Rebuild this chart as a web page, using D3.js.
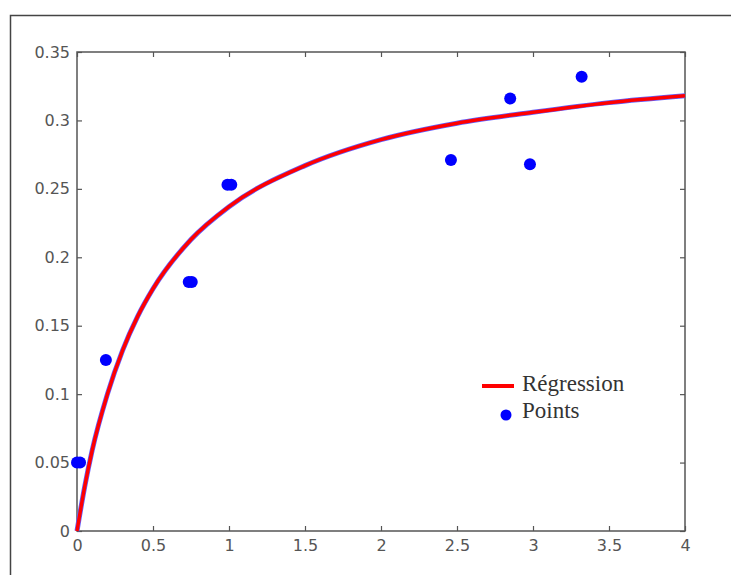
<!DOCTYPE html>
<html>
<head>
<meta charset="utf-8">
<script src="https://cdn.jsdelivr.net/npm/d3@7"></script>
<style>
  body { margin: 0; background: #fff; }
</style>
</head>
<body>
<script>
// measured points
const pointX = [0.0, 0.02, 0.19, 0.735, 0.755, 0.99, 1.015, 2.46, 2.85, 2.98, 3.32];
const pointY = [0.05, 0.05, 0.125, 0.182, 0.182, 0.253, 0.253, 0.271, 0.316, 0.268, 0.332];

// regression curve
const curveX = [0, 0.05, 0.1, 0.2, 0.3, 0.4, 0.5, 0.75, 1, 1.5, 2, 2.5, 3, 3.5, 4];
const curveY = [0, 0.032, 0.059, 0.1, 0.132, 0.157, 0.177, 0.213, 0.237, 0.267, 0.286, 0.298, 0.306, 0.313, 0.318];

const xTicks = [0, 0.5, 1, 1.5, 2, 2.5, 3, 3.5, 4];
const yTicks = [0, 0.05, 0.1, 0.15, 0.2, 0.25, 0.3, 0.35];
const legendLabels = ["Régression", "Points"];

const width = 731;
const height = 575;
const margin = { top: 52, right: 46, bottom: 44, left: 77 };

const svg = d3.select("body").append("svg")
    .attr("width", width)
    .attr("height", height);

// figure frame
svg.append("rect")
    .attr("x", 10.5).attr("y", 15.5)
    .attr("width", 740).attr("height", 600)
    .attr("fill", "none")
    .attr("stroke", "#444")
    .attr("stroke-width", 1.5);

const x = d3.scaleLinear().domain([0, 4]).range([margin.left, width - margin.right]);
const y = d3.scaleLinear().domain([0, 0.35]).range([height - margin.bottom, margin.top]);

const axisColor = "#555";
const tickFont = "'DejaVu Sans', sans-serif";

function styleAxis(g, showText) {
    g.select(".domain").remove();
    g.selectAll("line").attr("stroke", axisColor).attr("stroke-width", 1.2);
    g.selectAll("text")
        .attr("fill", "#555")
        .style("font-family", tickFont)
        .style("font-size", "16px")
        .style("display", showText ? null : "none");
}

// bottom
svg.append("g")
    .attr("transform", `translate(0,${y(0)})`)
    .call(d3.axisBottom(x).tickValues(xTicks).tickSize(-5).tickPadding(9).tickFormat(d3.format("")))
    .call(g => styleAxis(g, true));
// top
svg.append("g")
    .attr("transform", `translate(0,${y(0.35)})`)
    .call(d3.axisTop(x).tickValues(xTicks).tickSize(-5))
    .call(g => styleAxis(g, false));
// left
svg.append("g")
    .attr("transform", `translate(${x(0)},0)`)
    .call(d3.axisLeft(y).tickValues(yTicks).tickSize(-5).tickPadding(7).tickFormat(d3.format("")))
    .call(g => styleAxis(g, true));
// right
svg.append("g")
    .attr("transform", `translate(${x(4)},0)`)
    .call(d3.axisRight(y).tickValues(yTicks).tickSize(-5))
    .call(g => styleAxis(g, false));

// axes box
svg.append("rect")
    .attr("x", x(0)).attr("y", y(0.35))
    .attr("width", x(4) - x(0)).attr("height", y(0) - y(0.35))
    .attr("fill", "none")
    .attr("stroke", axisColor)
    .attr("stroke-width", 1.5);

// regression line
const curveData = curveX.map((d, i) => [d, curveY[i]]);
const line = d3.line()
    .x(d => x(d[0]))
    .y(d => y(d[1]))
    .curve(d3.curveMonotoneX);

svg.append("path")
    .datum(curveData)
    .attr("d", line)
    .attr("fill", "none")
    .attr("stroke", "#6060ff")
    .attr("stroke-width", 5);
svg.append("path")
    .datum(curveData)
    .attr("d", line)
    .attr("fill", "none")
    .attr("stroke", "red")
    .attr("stroke-width", 3.5);

// points
svg.selectAll("circle.pt")
    .data(pointX.map((d, i) => [d, pointY[i]]))
    .enter().append("circle")
    .attr("class", "pt")
    .attr("cx", d => x(d[0]))
    .attr("cy", d => y(d[1]))
    .attr("r", 6)
    .attr("fill", "blue");

// legend
const legend = svg.append("g").attr("transform", "translate(482,386)");
legend.append("line")
    .attr("x1", 0).attr("x2", 32).attr("y1", 0).attr("y2", 0)
    .attr("stroke", "red").attr("stroke-width", 4);
legend.append("circle")
    .attr("cx", 24).attr("cy", 29).attr("r", 5.5)
    .attr("fill", "blue");
legend.selectAll("text")
    .data(legendLabels)
    .enter().append("text")
    .attr("x", 40)
    .attr("y", (d, i) => 5 + i * 27)
    .attr("fill", "#333")
    .style("font-family", "'Liberation Serif', 'Times New Roman', serif")
    .style("font-size", "23px")
    .text(d => d);
</script>
</body>
</html>
